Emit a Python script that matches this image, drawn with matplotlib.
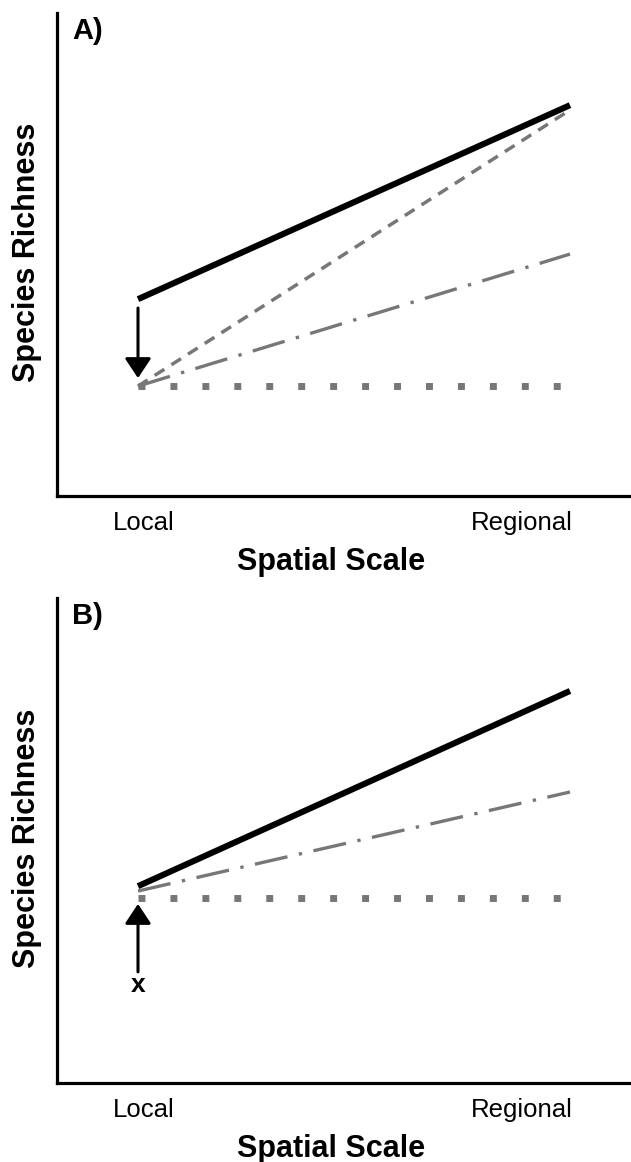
import matplotlib
matplotlib.use("Agg")
import matplotlib.pyplot as plt

plt.rcParams['font.family'] = ['Liberation Sans', 'DejaVu Sans']

# x: local / regional
scale_x = [1, 5]
tick_labels = ["Local", "Regional"]

# panel A (richness, arbitrary units)
a_black = [4.89, 9.71]
a_dashed = [2.73, 9.59]
a_dashdot = [2.73, 6.01]
a_dotted = [2.73, 2.73]
a_arrow = [4.67, 2.93]   # from -> to at the local end

# panel B
b_black = [4.87, 9.70]
b_dashdot = [4.75, 7.20]
b_dotted = [4.58, 4.58]
b_arrow = [2.75, 4.43]
b_arrow_label = 2.42

gray = '#777777'

fig = plt.figure(figsize=(6.31, 11.62), dpi=100)
axA = fig.add_axes([57/631, (1162-496)/1162, 574/631, 483/1162])
axB = fig.add_axes([57/631, (1162-1083)/1162, 574/631, 485/1162])


def setup(ax, letter):
    ax.set_xlim(0.25, 5.565)
    ax.set_ylim(0, 12)
    for s in ['top', 'right']:
        ax.spines[s].set_visible(False)
    for s in ['left', 'bottom']:
        ax.spines[s].set_linewidth(2.3)
    ax.set_yticks([])
    ax.set_xticks([1.056, 4.556])
    ax.set_xticklabels(tick_labels, fontsize=18.5)
    ax.tick_params(axis='x', length=0, pad=11)
    ax.set_xlabel("Spatial Scale", fontsize=22, fontweight='bold')
    ax.xaxis.set_label_coords(0.477, -0.105)
    ax.set_ylabel("Species Richness", fontsize=22, fontweight='bold')
    ax.yaxis.set_label_coords(-0.027, 0.505)
    ax.text(0.026, 0.962, letter, transform=ax.transAxes, fontsize=21,
            fontweight='bold', va='center', ha='left')


def dotted(ax, y):
    # square dots, ~32 px apart
    ax.plot(scale_x, y, color=gray, lw=5, dashes=(1.0, 3.6),
            solid_capstyle='butt', dash_capstyle='butt')


# A
setup(axA, "A)")
dotted(axA, a_dotted)
axA.plot(scale_x, a_dashdot, color=gray, lw=2.4, dashes=(10, 3.5, 1, 3.5))
axA.plot(scale_x, a_dashed, color=gray, lw=2.5, dashes=(3.3, 2.4))
axA.plot(scale_x, a_black, color='black', lw=4.4, solid_capstyle='butt')
axA.annotate('', xy=(scale_x[0], a_arrow[1]), xytext=(scale_x[0], a_arrow[0]),
             arrowprops=dict(arrowstyle='-|>,head_width=0.8,head_length=1.2',
                             lw=2.2, color='black', shrinkA=0, shrinkB=0))

# B
setup(axB, "B)")
dotted(axB, b_dotted)
axB.plot(scale_x, b_dashdot, color=gray, lw=2.4, dashes=(10, 3.5, 1, 3.5))
axB.plot(scale_x, b_black, color='black', lw=4.4, solid_capstyle='butt')
axB.annotate('', xy=(scale_x[0], b_arrow[1]), xytext=(scale_x[0], b_arrow[0]),
             arrowprops=dict(arrowstyle='-|>,head_width=0.8,head_length=1.2',
                             lw=2.2, color='black', shrinkA=0, shrinkB=0))
axB.text(scale_x[0], b_arrow_label, "x", fontsize=19, fontweight='bold',
         ha='center', va='center')

fig.savefig("out.png", dpi=100)
